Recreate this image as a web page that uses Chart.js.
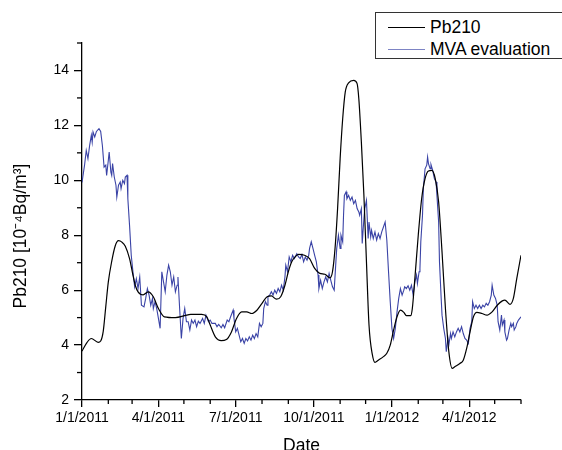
<!DOCTYPE html>
<html>
<head>
<meta charset="utf-8">
<script src="https://cdn.jsdelivr.net/npm/chart.js@4.4.0/dist/chart.umd.min.js"></script>
<style>
  html, body { margin: 0; padding: 0; overflow: hidden; background: #fff; }
  #wrap { position: relative; width: 562px; height: 470px; }
  #legend { position: absolute; left: 375px; top: 12px; width: 200px; height: 45px;
            border: 1px solid #333; background: #fff;
            font-family: 'Liberation Sans', Arial, sans-serif; font-size: 17.5px; color: #000; }
  #legend .sw { position: absolute; left: 12px; width: 37px; height: 0; }
  #legend .tx { position: absolute; left: 54px; line-height: 20px; white-space: nowrap; }
</style>
</head>
<body>
<div id="wrap">
  <canvas id="chart" width="562" height="470"></canvas>
  <div id="legend">
    <div class="sw" style="top:13.5px; border-top:1.4px solid #000;"></div>
    <div class="tx" style="top:4px;">Pb210</div>
    <div class="sw" style="top:35.5px; border-top:1.6px solid #7d84c4;"></div>
    <div class="tx" style="top:26px;">MVA evaluation</div>
  </div>
</div>
<script>
// days since 1/1/2011
const monthDays = [0, 31, 59, 90, 120, 151, 181, 212, 243, 273, 304, 334, 365, 396, 425, 456, 486, 517];
const monthLabels = ['1/1/2011', '', '', '4/1/2011', '', '', '7/1/2011', '', '', '10/1/2011', '', '',
                     '1/1/2012', '', '', '4/1/2012', '', ''];

const pbDays = [0, 6, 11, 19, 22, 25, 28, 31, 35, 39,
  43, 47, 51, 56, 60, 63, 66, 72, 78, 84,
  90, 97, 110, 121, 128, 141, 147, 151, 157, 164,
  170, 176, 182, 188, 194, 200, 206, 212, 218, 223,
  229, 234, 239, 243, 247, 251, 255, 262, 268, 274,
  280, 286, 292, 295, 298, 301, 304, 307, 310, 314,
  320, 324, 326, 329, 332, 335, 338, 342, 345, 349,
  355, 359, 363, 367, 371, 375, 379, 382, 387, 389,
  392, 396, 400, 404, 408, 412, 416, 420, 424, 428,
  432, 436, 439, 445, 449, 453, 457, 461, 465, 471,
  477, 483, 489, 495, 498, 504, 508, 512, 517];
const pbValues = [3.78, 4.1, 4.24, 4.1, 4.15, 4.5, 5.4, 6.3, 7.05, 7.6,
  7.8, 7.75, 7.6, 7.15, 6.55, 6.15, 5.94, 5.83, 5.94, 5.76,
  5.33, 5.03, 5.0, 5.07, 5.12, 5.12, 5.03, 4.73, 4.3, 4.16,
  4.2, 4.48, 4.97, 5.21, 5.21, 5.15, 5.27, 5.52, 5.76, 5.79,
  5.67, 5.76, 6.18, 6.67, 7.03, 7.21, 7.3, 7.27, 7.15, 6.79,
  6.61, 6.58, 6.45, 6.67, 7.52, 8.97, 10.79, 12.24, 13.21, 13.55,
  13.64, 13.52, 12.97, 11.39, 9.45, 7.03, 4.73, 3.64, 3.37, 3.45,
  3.58, 3.7, 4.0, 4.55, 5.03, 5.27, 5.19, 5.07, 5.07, 5.33,
  6.42, 8.0, 9.33, 10.06, 10.34, 10.36, 10.06, 9.21, 7.39, 5.33,
  3.76, 3.15, 3.21, 3.33, 3.45, 3.88, 4.48, 5.03, 5.19, 5.15,
  5.09, 5.21, 5.45, 5.61, 5.64, 5.48, 5.7, 6.42, 7.27];

const mvaDays = [0, 3, 5, 7, 9, 11, 12, 13, 15, 17,
  20, 22, 24, 26, 28, 29, 31, 32, 34, 35,
  36, 38, 40, 41, 43, 45, 46, 48, 50, 51,
  53, 54, 56, 58, 60, 62, 64, 66, 68, 70,
  73, 75, 77, 79, 81, 83, 84, 86, 88, 90,
  92, 94, 96, 98, 100, 102, 104, 106, 108, 110,
  112, 113, 115, 117, 119, 121, 123, 125, 127, 129,
  131, 133, 135, 137, 139, 142, 144, 146, 149, 151,
  153, 157, 159, 161, 164, 166, 168, 171, 173, 175,
  178, 179, 181, 183, 185, 187, 189, 191, 193, 195,
  197, 199, 201, 203, 205, 207, 209, 211, 213, 214,
  216, 218, 219, 221, 223, 225, 227, 229, 231, 233,
  235, 237, 239, 240, 242, 244, 246, 248, 250, 253,
  255, 257, 259, 261, 263, 265, 267, 268, 270, 272,
  274, 276, 278, 279, 281, 283, 285, 287, 289, 291,
  293, 295, 297, 299, 300, 302, 304, 305, 307, 308,
  309, 311, 312, 314, 316, 318, 320, 322, 324, 326,
  327, 329, 330, 332, 333, 335, 337, 338, 340, 341,
  343, 345, 347, 349, 351, 353, 355, 357, 358, 359,
  361, 363, 365, 367, 369, 371, 373, 375, 377, 379,
  380, 382, 384, 386, 388, 390, 392, 394, 395, 397,
  398, 399, 401, 402, 404, 406, 407, 408, 410, 411,
  413, 415, 417, 418, 420, 421, 423, 424, 426, 428,
  429, 431, 432, 434, 435, 437, 439, 441, 443, 445,
  447, 449, 451, 453, 455, 457, 459, 460, 462, 464,
  466, 468, 470, 472, 474, 476, 478, 480, 482, 483,
  485, 487, 489, 490, 492, 494, 495, 497, 498, 500,
  501, 503, 505, 506, 508, 509, 511, 512, 514, 517];
const mvaValues = [9.92, 10.55, 11.09, 10.79, 11.27, 11.64, 11.39, 11.76, 11.58, 11.78,
  11.88, 11.78, 11.27, 10.48, 10.55, 10.18, 10.73, 11.03, 10.3, 10.18,
  10.61, 10.12, 9.82, 9.39, 9.82, 9.94, 9.7, 10.0, 9.88, 10.12,
  10.18, 9.33, 8.36, 7.27, 6.67, 6.12, 6.42, 6.06, 6.48, 5.45,
  5.39, 5.7, 6.06, 5.82, 5.45, 5.7, 5.33, 5.58, 5.33, 4.97,
  4.61, 6.67, 6.3, 5.94, 6.55, 6.91, 6.67, 6.18, 6.48, 5.94,
  6.18, 6.48, 5.33, 4.24, 4.97, 5.33, 4.85, 4.85, 4.55, 4.91,
  4.79, 4.91, 4.67, 4.87, 4.79, 4.97, 4.79, 5.09, 4.85, 4.91,
  4.79, 4.79, 4.67, 4.75, 4.63, 4.75, 4.63, 4.91, 4.85, 5.03,
  5.27, 4.97, 4.48, 4.61, 4.36, 4.12, 4.24, 4.06, 4.24, 4.15,
  4.3, 4.18, 4.36, 4.24, 4.42, 4.3, 4.79, 4.67, 4.79, 5.33,
  5.58, 5.45, 5.76, 5.82, 5.94, 5.82, 6.0, 5.88, 6.06, 5.94,
  6.18, 6.0, 6.48, 6.91, 6.67, 7.21, 7.03, 7.27, 7.15, 7.33,
  7.21, 7.15, 7.3, 7.03, 7.21, 7.09, 7.27, 7.52, 7.76, 7.52,
  7.27, 7.03, 6.55, 6.06, 6.36, 6.06, 6.3, 6.48, 6.3, 6.61,
  6.36, 6.12, 6.0, 7.03, 7.52, 8.0, 7.52, 8.0, 7.76, 8.73,
  9.45, 9.58, 9.33, 9.45, 9.27, 9.39, 9.15, 9.27, 8.97, 8.85,
  8.73, 8.97, 7.7, 8.61, 8.97, 9.27, 7.88, 8.48, 7.94, 8.18,
  7.88, 8.12, 7.82, 8.06, 7.88, 8.12, 8.3, 8.48, 8.48, 7.82,
  6.67, 5.58, 4.61, 4.24, 4.61, 5.21, 5.7, 6.06, 5.82, 6.0,
  6.12, 6.06, 6.16, 6.0, 6.18, 5.82, 6.3, 6.55, 6.24, 6.67,
  6.79, 7.76, 8.73, 9.7, 10.42, 10.55, 10.85, 10.61, 10.42, 10.57,
  10.36, 10.06, 9.94, 9.45, 8.48, 7.03, 5.7, 5.09, 4.61, 4.24,
  3.76, 4.24, 4.0, 4.42, 4.24, 4.48, 4.3, 4.48, 4.61, 4.48,
  4.67, 4.42, 4.24, 4.18, 4.06, 4.61, 4.85, 5.58, 5.33, 5.45,
  5.33, 5.45, 5.33, 5.45, 5.39, 5.52, 5.45, 5.58, 5.82, 6.18,
  5.82, 5.7, 5.45, 4.85, 4.55, 5.09, 4.73, 4.91, 4.48, 4.18,
  4.24, 4.55, 4.79, 4.67, 4.79, 4.55, 4.67, 4.79, 4.91, 5.03];

const FONT = "'Liberation Sans', Arial, sans-serif";
Chart.defaults.font.family = FONT;
Chart.defaults.color = '#000';

// short minor ticks, the long major ones come from the grid
const minorTicks = {
    id: 'minorTicks',
    afterDraw(chart) {
        const { ctx, scales: { x, y } } = chart;
        ctx.save();
        ctx.strokeStyle = '#000';
        ctx.lineWidth = 1.3;
        x.ticks.forEach((t, i) => {
            if (monthLabels[i]) return;
            const px = x.getPixelForValue(t.value);
            ctx.beginPath();
            ctx.moveTo(px, x.top);
            ctx.lineTo(px, x.top + 4);
            ctx.stroke();
        });
        y.ticks.forEach((t) => {
            if (t.value % 2 === 0) return;
            const py = y.getPixelForValue(t.value);
            ctx.beginPath();
            ctx.moveTo(y.right - 5, py);
            ctx.lineTo(y.right, py);
            ctx.stroke();
        });
        ctx.restore();
    },
};

var ctx = document.getElementById('chart');
var chart = new Chart(ctx, {
    type: 'line',
    data: {
        datasets: [
            {
                label: 'Pb210',
                data: pbDays.map((d, i) => ({ x: d, y: pbValues[i] })),
                borderColor: '#000',
                borderWidth: 1.2,
                pointRadius: 0,
                fill: false,
                cubicInterpolationMode: 'monotone',
            },
            {
                label: 'MVA evaluation',
                data: mvaDays.map((d, i) => ({ x: d, y: mvaValues[i] })),
                borderColor: '#3a43a6',
                borderWidth: 1.1,
                pointRadius: 0,
                fill: false,
                tension: 0,
            },
        ],
    },
    options: {
        responsive: false,
        animation: false,
        layout: { padding: { top: 43, right: 41, left: 0, bottom: 0 } },
        plugins: { legend: { display: false }, tooltip: { enabled: false } },
        scales: {
            x: {
                type: 'linear',
                min: 0,
                max: 517,
                afterBuildTicks: (s) => { s.ticks = monthDays.map((v) => ({ value: v })); },
                afterFit: (s) => { s.height = 70; },
                ticks: {
                    autoSkip: false,
                    maxRotation: 0,
                    padding: 3,
                    font: { size: 14 },
                    callback: (v, i) => monthLabels[i],
                },
                grid: {
                    drawOnChartArea: false,
                    tickLength: 7,
                    lineWidth: 1.3,
                    color: (c) => (c.index !== undefined && monthLabels[c.index] ? '#000' : 'rgba(0,0,0,0)'),
                },
                border: { color: '#000', width: 1.3 },
                title: { display: true, text: 'Date', font: { size: 17.5 }, padding: { top: 0, bottom: 13 } },
            },
            y: {
                min: 2,
                max: 15,
                afterFit: (s) => { s.width = 82; },
                ticks: {
                    stepSize: 1,
                    autoSkip: false,
                    padding: 5,
                    font: { size: 14 },
                    callback: (v) => (v % 2 === 0 ? v : ''),
                },
                grid: {
                    drawOnChartArea: false,
                    tickLength: 8,
                    lineWidth: 1.3,
                    color: (c) => (c.tick && c.tick.value % 2 === 0 ? '#000' : 'rgba(0,0,0,0)'),
                },
                border: { color: '#000', width: 1.3 },
                // trailing spaces nudge the rotated title a little lower, like the original
                title: { display: true, text: 'Pb210 [10⁻⁴Bq/m³]\u00A0\u00A0\u00A0\u00A0\u00A0\u00A0', font: { size: 17.5 }, padding: { top: 10.5, bottom: 0 } },
            },
        },
    },
    plugins: [minorTicks],
});
</script>
</body>
</html>
